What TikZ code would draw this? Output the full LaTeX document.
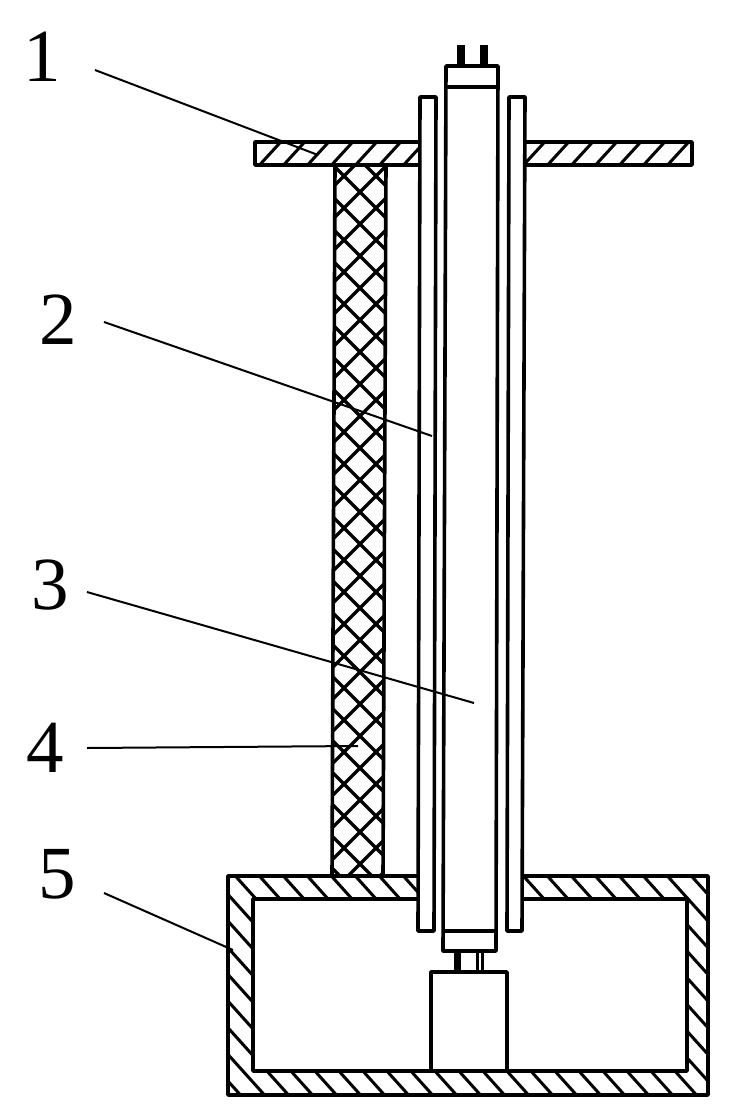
\documentclass[tikz,border=0pt]{standalone}
\usepackage{fontspec}
\setmainfont{Liberation Serif}
\tikzset{
  every picture/.style={x=1pt,y=-1pt},
  part/.style={draw=black,line width=3.6pt,line join=round},
  tube/.style={part,fill=white},
  hatch/.style={draw=black,line width=3pt},
  mesh/.style={draw=black,line width=3.4pt},
  leader/.style={draw=black,line width=2pt},
  numeral/.style={font=\fontsize{75}{75}\selectfont,inner sep=0pt,text=black}
}
\begin{document}
\begin{tikzpicture}
\useasboundingbox (0,0) rectangle (746,1120);
% plate
\begin{scope}
  \clip (255,142) rectangle (692,165);
  \foreach \c in {255,279,...,720}{\draw[hatch] (\c,170) -- ++(33,-36);}
\end{scope}
\fill[white] (420,130) rectangle (525,175);
\draw[part] (420,142) -- (255,142) -- (255,165) -- (420,165);
\draw[part] (525,142) -- (692,142) -- (692,165) -- (525,165);
% mesh column
\begin{scope}
  \clip (335,165) -- (386,165) -- (383,876) -- (332,876) -- cycle;
  \foreach \c in {-200,-168,...,900}{
    \draw[mesh] (320,\c) -- ++(80,80);
    \draw[mesh] (400,\c) -- ++(-80,80);
  }
\end{scope}
\draw[part] (335,165) -- (332,876);
\draw[part] (386,165) -- (383,876);
% box
\begin{scope}
  \clip (228,876) rectangle (708,1095);
  \foreach \c in {-10,14,...,710}{\draw[hatch] (\c,870) -- ++(207,230);}
\end{scope}
\fill[white] (253,899) rectangle (687,1071);
\fill[white] (418,870) rectangle (522,905);
\draw[part] (418,876) -- (228,876) -- (228,1095) -- (708,1095) -- (708,876) -- (522,876);
\draw[part] (418,899) -- (253,899) -- (253,1071) -- (687,1071) -- (687,899) -- (522,899);
% outer tubes
\draw[tube] (420,97) -- (436,97) -- (434,931) -- (418,931) -- cycle;
\draw[tube] (509,97) -- (525,97) -- (522,931) -- (507,931) -- cycle;
% pins
\fill[black] (457,45) rectangle (465,66);
\fill[black] (480,45) rectangle (488,66);
\fill[black] (454,951) rectangle (461,972);
\draw[part,line width=3pt] (477.5,951) rectangle (482,972);
% inner tube
\draw[tube] (446,66) -- (498,66) -- (496,951) -- (443,951) -- cycle;
\draw[part] (446,87) -- (498,87);
\draw[part] (443,931) -- (496,931);
% motor
\draw[tube] (431,972) rectangle (507,1071);
% labels
\node[numeral] (n1) at (42,57) {1};
\node[numeral] (n2) at (58,320) {2};
\node[numeral] (n3) at (50,585) {3};
\node[numeral] (n4) at (45,748) {4};
\node[numeral] (n5) at (57,874) {5};
% leaders
\coordinate (s1) at (95,70);   \coordinate (e1) at (318,155);
\coordinate (s2) at (104,322); \coordinate (e2) at (432,436);
\coordinate (s3) at (87,592);  \coordinate (e3) at (474,703);
\coordinate (s4) at (87,748);  \coordinate (e4) at (358,746);
\coordinate (s5) at (104,893); \coordinate (e5) at (233,950);
\foreach \i in {1,...,5}{\draw[leader] (s\i) -- (e\i);}
\end{tikzpicture}
\end{document}
